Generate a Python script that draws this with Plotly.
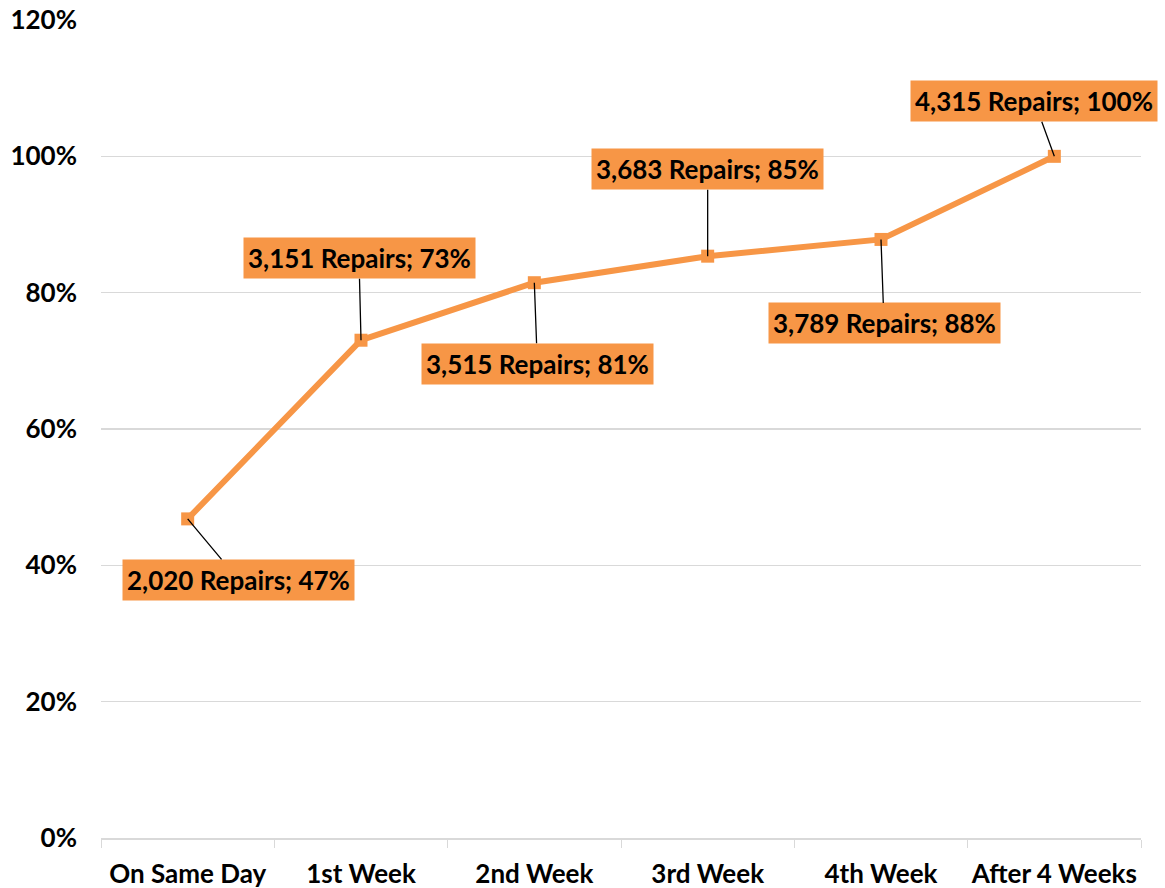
import plotly.graph_objects as go

categories = ["On Same Day", "1st Week", "2nd Week", "3rd Week", "4th Week", "After 4 Weeks"]
repairs = [2020, 3151, 3515, 3683, 3789, 4315]
total = 4315
shares = [r / total for r in repairs]
label_offsets = [(51, 61), (-2, -82), (3, 81), (0, -87), (3, 84), (-20, -55)]

ORANGE = "#F79646"
FONT = "Lato, Carlito, 'Liberation Sans', sans-serif"
FS = 26

fig = go.Figure()
fig.add_trace(go.Scatter(
    x=categories, y=shares, mode="lines+markers",
    line=dict(color=ORANGE, width=6),
    marker=dict(symbol="square", size=13, color=ORANGE),
    hoverinfo="skip", showlegend=False,
))

for c, r, s, (ax, ay) in zip(categories, repairs, shares, label_offsets):
    pct = round(s * 100)
    fig.add_annotation(
        x=c, y=s, xref="x", yref="y",
        text=f"<b>{r:,} Repairs; {pct}%</b>",
        showarrow=True, arrowhead=0, arrowwidth=1.3, arrowcolor="black",
        ax=ax, ay=ay, standoff=0,
        bgcolor=ORANGE, borderpad=4,
        font=dict(family=FONT, size=FS, color="black"),
    )

fig.update_layout(
    width=1165, height=888,
    margin=dict(l=101, r=24, t=20, b=50, autoexpand=False),
    plot_bgcolor="white", paper_bgcolor="white",
    font=dict(family=FONT, size=FS, color="black"),
    xaxis=dict(
        automargin=False, range=[-0.5, 5.5], tickangle=0,
        ticklabeloverflow="allow",
        showgrid=False, showline=True, linecolor="#D9D9D9", linewidth=1.5,
        ticks="outside", tickson="boundaries", ticklen=8, tickcolor="#D9D9D9",
        tickfont=dict(family=FONT, size=FS, color="black", weight="bold"),
        ticklabelstandoff=12,
    ),
    yaxis=dict(
        automargin=False, ticklabeloverflow="allow",
        range=[0, 1.2], tickmode="array",
        tickvals=[0, 0.2, 0.4, 0.6, 0.8, 1.0, 1.2],
        ticktext=["0%", "20%", "40%", "60%", "80%", "100%", "120%"],
        showgrid=True, gridcolor="#D9D9D9", gridwidth=1.2,
        zeroline=False, showline=False, ticks="",
        tickfont=dict(family=FONT, size=FS, color="black", weight="bold"),
        ticklabelstandoff=23,
    ),
)

fig.write_html(
    "out.html",
    config={"displayModeBar": False, "staticPlot": True},
    post_script="document.body.style.margin='0';document.body.style.overflow='hidden';",
)
